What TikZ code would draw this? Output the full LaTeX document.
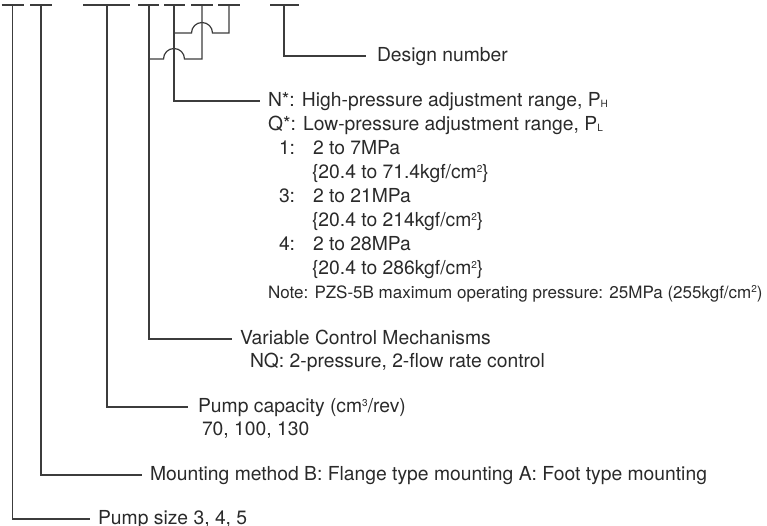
\documentclass[tikz,border=0pt]{standalone}
\usepackage{fontspec}
\setmainfont{TeX Gyre Heros}
\definecolor{txt}{HTML}{2A2A2A}
\definecolor{ln}{HTML}{3C3C3C}
\tikzset{
  lbl/.style={font=\fontsize{19.3}{24}\selectfont, text=txt, inner sep=0pt, outer sep=0pt,
    text height=12pt, text depth=0pt, anchor=west},
  notelbl/.style={lbl, font=\fontsize{17}{24}\selectfont},
  leader/.style={draw=ln, line width=1.2pt, line join=miter},
  codebar/.style={draw=ln, line width=1.2pt}
}
\newcommand{\subsm}[1]{\raisebox{-1pt}{\fontsize{10}{10}\selectfont #1}}
\newcommand{\supsm}[1]{\raisebox{6.5pt}{\fontsize{10}{10}\selectfont #1}}
\begin{document}
\begin{tikzpicture}[x=1pt,y=1pt]
\useasboundingbox (0,0) rectangle (767,526);
% code positions (top bars)
\coordinate (c1) at (12.5,521);
\coordinate (c2) at (41,521);
\coordinate (c3) at (107,521);
\coordinate (c4) at (149,521);
\coordinate (c5) at (174,521);
\coordinate (c6) at (202,521);
\coordinate (c7) at (229,521);
\coordinate (c8) at (284,521);
\draw[codebar] (1.5,521) -- (23.5,521);
\draw[codebar] (30,521) -- (52,521);
\draw[codebar] (83,521) -- (130,521);
\draw[codebar] (138,521) -- (159,521);
\draw[codebar] (164,521) -- (185,521);
\draw[codebar] (191,521) -- (213,521);
\draw[codebar] (218,521) -- (240,521);
\draw[codebar] (270,521) -- (299,521);

% labels
\node[lbl] (dn) at (377,470) {Design number};

\node[lbl] (nh) at (268,425) {N*: High-pressure adjustment range, P\subsm{H}};
\node[lbl] (ql) at (268,401) {Q*: Low-pressure adjustment range, P\subsm{L}};
\node[lbl] (k1) at (279,377) {1:};
\node[lbl] (v1) at (313,377) {2 to 7MPa};
\node[lbl] (s1) at (312,353) {\{20.4 to 71.4kgf/cm\supsm{2}\}};
\node[lbl] (k3) at (279,329) {3:};
\node[lbl] (v3) at (313,329) {2 to 21MPa};
\node[lbl] (s3) at (312,305) {\{20.4 to 214kgf/cm\supsm{2}\}};
\node[lbl] (k4) at (279,281) {4:};
\node[lbl] (v4) at (313,281) {2 to 28MPa};
\node[lbl] (s4) at (312,257) {\{20.4 to 286kgf/cm\supsm{2}\}};
\node[notelbl] (note) at (268,233) {Note: PZS-5B maximum operating pressure: 25MPa (255kgf/cm\supsm{2})};

\node[lbl] (vcm) at (240,187) {Variable Control Mechanisms};
\node[lbl] (nq) at (250,164) {NQ: 2-pressure, 2-flow rate control};

\node[lbl] (pc) at (198,119) {Pump capacity (cm\supsm{3}/rev)};
\node[lbl] (pcv) at (202,96) {70, 100, 130};

\node[lbl] (mm) at (150,51) {Mounting method B: Flange type mounting A: Foot type mounting};

\node[lbl] (ps) at (98,7) {Pump size 3, 4, 5};

% leaders
\draw[leader] (c1) |- ([xshift=-8pt]ps.west);
\draw[leader] (c2) |- ([xshift=-8pt]mm.west);
\draw[leader] (c3) |- ([xshift=-10pt]pc.west);
\draw[leader] (c4) |- ([xshift=-8pt]vcm.west);
\draw[leader] (c5) |- ([xshift=-8pt]nh.west);
\draw[leader] (c8) |- ([xshift=-11pt]dn.west);
% joins with hops
\draw[leader] (c7) -- (229,493) -- (212.5,493) arc[start angle=0, end angle=180, radius=10.5] -- (174,493);
\draw[leader] (c6) -- (202,467) -- (184.5,467) arc[start angle=0, end angle=180, radius=10.5] -- (149,467);
\end{tikzpicture}
\end{document}
